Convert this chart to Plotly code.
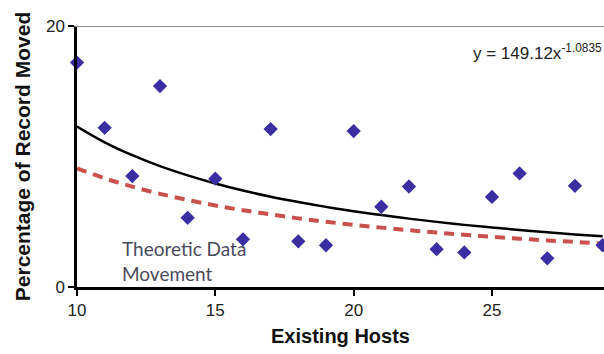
import plotly.graph_objects as go

hosts = list(range(10, 30))
moved = [17.2, 12.2, 8.5, 15.4, 5.3, 8.3, 3.65, 12.1, 3.5, 3.2,
         11.95, 6.15, 7.7, 2.9, 2.65, 6.9, 8.7, 2.2, 7.75, 3.2]
trend = [12.30, 11.09, 10.10, 9.26, 8.55, 7.93, 7.39, 6.92, 6.51, 6.14,
         5.81, 5.51, 5.24, 4.99, 4.76, 4.56, 4.37, 4.19, 4.03, 3.88]
theoretic = [9.09, 8.33, 7.69, 7.14, 6.67, 6.25, 5.88, 5.56, 5.26, 5.00,
             4.76, 4.55, 4.35, 4.17, 4.00, 3.85, 3.70, 3.57, 3.45, 3.33]
x_ticks = [10, 15, 20, 25]
y_ticks = [0, 20]

fig = go.Figure()
fig.add_trace(go.Scatter(x=hosts, y=theoretic, mode="lines", line_shape="spline",
                         line=dict(color="#c9504d", width=4, dash="10px,7px"),
                         showlegend=False))
fig.add_trace(go.Scatter(x=hosts, y=trend, mode="lines", line_shape="spline",
                         line=dict(color="black", width=2.5), showlegend=False))
fig.add_trace(go.Scatter(x=hosts, y=moved, mode="markers",
                         marker=dict(symbol="diamond", size=11, color="#3b2ea3"),
                         showlegend=False, cliponaxis=False))

fig.add_shape(type="line", xref="paper", yref="y", x0=-0.005, x1=1, y0=20, y1=20,
              line=dict(color="#8a8a8a", width=2))

fig.add_annotation(xref="paper", yref="y", x=1.0, y=18.0, xanchor="right", yanchor="middle",
                   text="y = 149.12x<sup>-1.0835</sup>", showarrow=False,
                   font=dict(family="Liberation Sans, Arial", size=17, color="#222"))
fig.add_annotation(xref="x", yref="y", x=11.55, y=2.0, xanchor="left", yanchor="middle",
                   text="Theoretic Data<br>Movement", showarrow=False, align="left",
                   font=dict(family="Lato, Carlito, sans-serif", size=19, color="#4a4a5e"))

fig.update_xaxes(range=[10, 29.05], tickvals=x_ticks, ticks="outside", ticklen=6,
                 tickwidth=2, tickcolor="black", showline=True, linecolor="black",
                 linewidth=2.5, showgrid=False, zeroline=False,
                 tickfont=dict(family="Liberation Sans, Arial", size=17, color="#222"),
                 title=dict(text="<b>Existing Hosts</b>", standoff=10,
                            font=dict(family="Liberation Sans, Arial", size=20, color="#111")))
fig.update_yaxes(range=[0, 20], tickvals=y_ticks, ticks="outside", ticklen=6,
                 tickwidth=2, tickcolor="black", showline=True, linecolor="black",
                 linewidth=2.5, showgrid=False, zeroline=False,
                 tickfont=dict(family="Liberation Sans, Arial", size=17, color="#222"),
                 title=dict(text="<b>Percentage of Record Moved</b>", standoff=10,
                            font=dict(family="Liberation Sans, Arial", size=21, color="#111")))

fig.update_layout(width=604, height=354, margin=dict(l=77, r=0, t=26, b=67),
                  plot_bgcolor="white", paper_bgcolor="white")

fig.write_html("out.html")
